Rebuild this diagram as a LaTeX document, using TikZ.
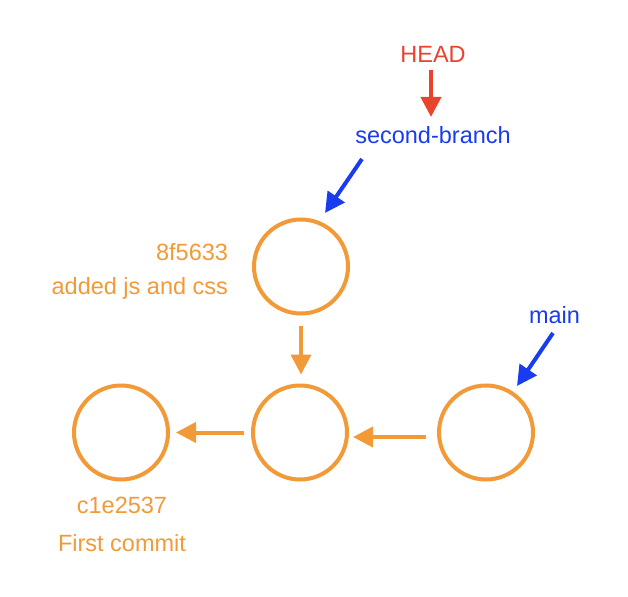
\documentclass[tikz,border=0pt]{standalone}
\usepackage{fontspec}
\setmainfont{Liberation Sans}
\usetikzlibrary{arrows.meta}
\definecolor{gorange}{HTML}{F29A38}
\definecolor{gblue}{HTML}{1A3CF0}
\definecolor{gred}{HTML}{E8442E}
\begin{document}
\begin{tikzpicture}[x=1pt,y=-1pt,
  commit/.style={circle,draw=gorange,line width=4pt,minimum size=94pt,inner sep=0pt,outer sep=0pt},
  lbl/.style={inner sep=0pt,outer sep=0pt,font=\fontsize{23.5}{28}\selectfont},
  conn/.style={line width=4pt,-{Triangle[length=20pt,width=20pt]}},
]
\useasboundingbox (0,0) rectangle (628,596);
% commits
\node[commit] (C2) at (301,266.5) {};
\node[commit] (C0) at (121,432.5) {};
\node[commit] (C1) at (300,432.5) {};
\node[commit] (C3) at (486,432.5) {};
% labels
\node[lbl,text=gred,anchor=base] (head) at (433,63) {HEAD};
\node[lbl,text=gblue,anchor=base] (sb) at (433,144) {second-branch};
\node[lbl,text=gblue,anchor=base] (main) at (554.5,323) {main};
\node[lbl,text=gorange,anchor=base east] (h2) at (228,260) {8f5633};
\node[lbl,text=gorange,anchor=base east] (m2) at (228,294) {added js and css};
\node[lbl,text=gorange,anchor=base] (h0) at (122,513) {c1e2537};
\node[lbl,text=gorange,anchor=base] (m0) at (122,551) {First commit};
% connectors between commits
\draw[conn,draw=gorange,fill=gorange,shorten <=12pt,shorten >=11pt] (C2.south) -- (C1.north -| C2.south);
\draw[conn,draw=gorange,fill=gorange,shorten <=9pt,shorten >=8pt] (C1.west) -- (C0.east);
\draw[conn,draw=gorange,fill=gorange,shorten <=13pt,shorten >=6pt] ([yshift=-4.5pt]C3.west) -- ([yshift=-4.5pt]C1.east);
% ref pointers
\draw[conn,draw=gred,fill=gred,shorten <=7pt,shorten >=10pt] (head.south -| 431,0) -- (sb.north -| 431,0);
\coordinate (sbA) at (362,159);
\coordinate (sbT) at (325,213);
\draw[conn,draw=gblue,fill=gblue] (sbA) -- (sbT);
\coordinate (mA) at (553,333);
\coordinate (mT) at (517,386);
\draw[conn,draw=gblue,fill=gblue] (mA) -- (mT);
\end{tikzpicture}
\end{document}
